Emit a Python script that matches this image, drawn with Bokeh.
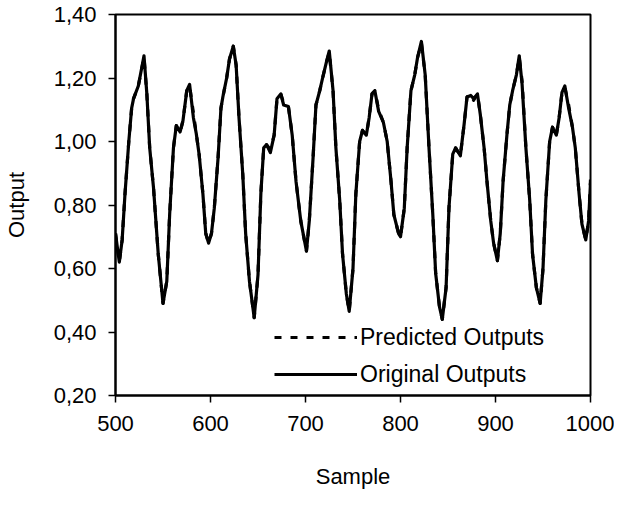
from bokeh.plotting import figure
from bokeh.models import Range1d, FixedTicker, Legend, LegendItem
from bokeh.embed import file_html
from bokeh.resources import INLINE

# ---- data ----
sample = [500, 504, 507, 510, 514, 517, 519, 524, 530, 533, 536, 540, 545, 550, 554, 557,
          561, 564, 568, 571, 575, 578, 582, 585, 588, 592, 595, 598, 601, 604, 608, 611,
          613, 617, 620, 624, 627, 630, 634, 637, 641, 646, 650, 653, 656, 659, 663, 667,
          670, 674, 677, 682, 686, 690, 695, 701, 704, 708, 711, 715, 718, 722, 725, 729,
          732, 736, 739, 743, 746, 750, 753, 757, 760, 764, 767, 770, 773, 777, 782, 786,
          790, 793, 798, 800, 804, 807, 811, 815, 818, 822, 826, 830, 834, 837, 841, 844,
          848, 851, 855, 858, 863, 867, 870, 874, 877, 881, 884, 888, 891, 895, 898, 902,
          905, 908, 912, 915, 918, 922, 925, 928, 932, 936, 939, 943, 947, 950, 953, 957,
          960, 964, 967, 970, 973, 977, 981, 984, 988, 991, 995, 998, 1000]

original = [0.71, 0.62, 0.69, 0.835, 1.00, 1.105, 1.135, 1.175, 1.27, 1.15, 0.98, 0.855, 0.645, 0.49, 0.56, 0.77,
            0.98, 1.05, 1.03, 1.065, 1.16, 1.18, 1.075, 1.025, 0.96, 0.835, 0.71, 0.68, 0.71, 0.79, 0.95, 1.105,
            1.14, 1.20, 1.26, 1.30, 1.24, 1.075, 0.895, 0.71, 0.56, 0.445, 0.58, 0.835, 0.98, 0.99, 0.965, 1.02,
            1.135, 1.15, 1.115, 1.11, 1.02, 0.875, 0.75, 0.655, 0.75, 0.95, 1.115, 1.16, 1.20, 1.25, 1.285, 1.16,
            0.98, 0.815, 0.645, 0.52, 0.465, 0.60, 0.835, 1.00, 1.035, 1.02, 1.075, 1.15, 1.16, 1.095, 1.06, 1.00,
            0.875, 0.77, 0.71, 0.70, 0.79, 0.98, 1.16, 1.21, 1.265, 1.315, 1.21, 0.98, 0.77, 0.585, 0.48, 0.44,
            0.54, 0.79, 0.96, 0.98, 0.955, 1.055, 1.14, 1.145, 1.135, 1.15, 1.085, 0.98, 0.875, 0.75, 0.68, 0.625,
            0.71, 0.875, 1.02, 1.115, 1.16, 1.21, 1.27, 1.18, 0.98, 0.815, 0.645, 0.54, 0.49, 0.60, 0.815, 1.00,
            1.045, 1.02, 1.075, 1.155, 1.175, 1.105, 1.045, 0.98, 0.835, 0.74, 0.69, 0.75, 0.87]

predicted = [0.71, 0.62, 0.69, 0.835, 1.00, 1.105, 1.135, 1.175, 1.265, 1.15, 0.98, 0.855, 0.645, 0.49, 0.56, 0.77,
             0.98, 1.05, 1.03, 1.065, 1.16, 1.175, 1.09, 1.025, 0.96, 0.835, 0.71, 0.68, 0.71, 0.79, 0.95, 1.105,
             1.14, 1.20, 1.26, 1.30, 1.24, 1.075, 0.895, 0.71, 0.56, 0.445, 0.58, 0.835, 0.98, 0.99, 0.975, 1.02,
             1.135, 1.15, 1.12, 1.11, 1.02, 0.875, 0.75, 0.655, 0.75, 0.95, 1.115, 1.16, 1.20, 1.25, 1.28, 1.16,
             0.98, 0.815, 0.645, 0.52, 0.465, 0.60, 0.835, 1.00, 1.035, 1.02, 1.075, 1.15, 1.16, 1.10, 1.06, 1.00,
             0.875, 0.77, 0.71, 0.70, 0.79, 0.98, 1.16, 1.21, 1.265, 1.31, 1.21, 0.98, 0.77, 0.585, 0.48, 0.44,
             0.54, 0.79, 0.96, 0.98, 0.955, 1.055, 1.14, 1.15, 1.13, 1.15, 1.085, 0.98, 0.875, 0.75, 0.68, 0.625,
             0.71, 0.875, 1.02, 1.115, 1.16, 1.21, 1.265, 1.19, 0.98, 0.815, 0.645, 0.54, 0.49, 0.60, 0.815, 1.00,
             1.045, 1.02, 1.075, 1.155, 1.17, 1.115, 1.045, 0.98, 0.835, 0.74, 0.69, 0.75, 0.88]

x_ticks = [500, 600, 700, 800, 900, 1000]
y_ticks = [0.2, 0.4, 0.6, 0.8, 1.0, 1.2, 1.4]
y_tick_labels = ["0,20", "0,40", "0,60", "0,80", "1,00", "1,20", "1,40"]

FONT = "Liberation Sans"
FS = "22px"

p = figure(width=614, height=495, output_backend="svg", toolbar_location=None,
           x_range=Range1d(500, 1000), y_range=Range1d(0.2, 1.4))
p.min_border_left = 110
p.min_border_right = 24
p.min_border_top = 14
p.min_border_bottom = 100
p.background_fill_color = "white"
p.border_fill_color = "white"
p.outline_line_color = "black"
p.outline_line_width = 2
p.xgrid.visible = False
p.ygrid.visible = False

r_pred = p.line(sample, predicted, line_color="black", line_width=3.2, line_dash="7 9",
                line_join="round")
r_orig = p.line(sample, original, line_color="black", line_width=3.2, line_join="round")

for ax in (p.xaxis[0], p.yaxis[0]):
    ax.axis_line_color = "black"
    ax.axis_line_width = 2
    ax.major_tick_line_color = "black"
    ax.major_tick_line_width = 1.5
    ax.major_tick_in = 0
    ax.major_tick_out = 7
    ax.minor_tick_line_color = None
    ax.major_label_text_font = FONT
    ax.major_label_text_font_size = FS
    ax.major_label_text_color = "black"
    ax.axis_label_text_font = FONT
    ax.axis_label_text_font_size = FS
    ax.axis_label_text_font_style = "normal"
    ax.axis_label_text_color = "black"

p.xaxis[0].ticker = FixedTicker(ticks=x_ticks)
p.yaxis[0].ticker = FixedTicker(ticks=y_ticks)
p.yaxis[0].major_label_overrides = {t: s for t, s in zip(y_ticks, y_tick_labels)}
p.xaxis[0].axis_label = "Sample"
p.yaxis[0].axis_label = "Output"
p.xaxis[0].major_label_standoff = 13
p.yaxis[0].major_label_standoff = 12
p.xaxis[0].axis_label_standoff = 30
p.yaxis[0].axis_label_standoff = 22

legend = Legend(items=[LegendItem(label="Predicted Outputs", renderers=[r_pred]),
                       LegendItem(label="Original Outputs", renderers=[r_orig])],
                location="bottom_right", margin=0, padding=6, spacing=7,
                glyph_width=83, glyph_height=30, label_height=30, label_width=224,
                label_standoff=3,
                label_text_font=FONT, label_text_font_size="23px", label_text_color="black",
                border_line_alpha=0, background_fill_alpha=0)
p.add_layout(legend)

open("out.html", "w").write(file_html(p, INLINE))
